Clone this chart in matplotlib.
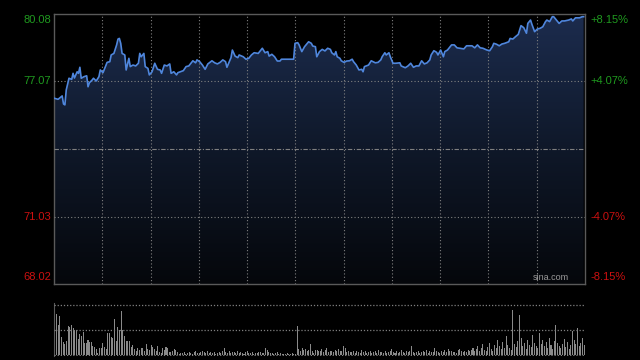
import numpy as np
import matplotlib.pyplot as plt
from matplotlib.colors import LinearSegmentedColormap

# intraday price (minute of session, price)
times = [0, 3, 6, 7, 8, 9, 11, 13, 14, 15, 17, 18, 19, 20, 22, 24, 25, 26, 28, 29,
         31, 33, 34, 36, 37, 39, 41, 42, 44, 46, 47, 48, 49, 50, 52, 53, 55, 56, 58, 60,
         62, 63, 64, 66, 67, 69, 70, 72, 74, 76, 78, 79, 81, 83, 85, 86, 88, 90, 91, 94,
         95, 97, 99, 102, 104, 105, 107, 109, 111, 113, 116, 118, 120, 122, 124, 126, 127, 129, 130, 131,
         133, 135, 136, 139, 141, 143, 145, 147, 150, 153, 155, 157, 158, 160, 162, 164, 166, 167, 176, 177,
         179, 180, 182, 184, 187, 189, 190, 192, 193, 195, 197, 199, 201, 203, 204, 206, 207, 208, 210, 211,
         213, 215, 217, 219, 220, 222, 224, 226, 227, 228, 231, 233, 236, 238, 240, 241, 243, 244, 246, 247,
         249, 251, 254, 255, 258, 260, 262, 264, 266, 268, 270, 272, 274, 276, 277, 279, 281, 282, 284, 286,
         287, 289, 292, 294, 296, 298, 301, 303, 307, 309, 311, 313, 315, 318, 320, 322, 323, 325, 327, 329,
         331, 334, 335, 337, 339, 341, 343, 345, 347, 348, 350, 351, 353, 355, 357, 359, 361, 362, 364, 366,
         367, 369, 371, 373, 375, 378, 380, 381, 383, 386, 388, 389]
prices = [76.32, 76.27, 76.42, 76.06, 76.02, 76.69, 77.21, 77.16, 77.43, 77.22, 77.50, 77.43, 77.70, 77.21, 77.28, 77.32, 76.83, 77.01, 77.13, 77.21,
          77.09, 77.28, 77.58, 77.46, 77.61, 77.92, 77.95, 78.25, 78.32, 78.70, 78.96, 78.99, 78.77, 78.32, 78.25, 77.58, 78.10, 77.73, 77.80, 77.76,
          77.88, 78.32, 78.17, 78.32, 77.73, 77.65, 77.36, 77.50, 77.88, 77.61, 77.58, 77.43, 77.80, 77.76, 77.85, 77.43, 77.50, 77.36, 77.46, 77.53,
          77.55, 77.73, 77.76, 77.99, 77.90, 78.03, 77.95, 77.80, 77.61, 77.85, 77.99, 77.90, 77.85, 77.92, 78.03, 77.95, 77.70, 77.98, 78.13, 78.47,
          78.20, 78.13, 78.25, 78.17, 78.06, 78.10, 78.25, 78.35, 78.32, 78.55, 78.35, 78.40, 78.20, 78.28, 78.17, 77.98, 77.98, 78.06, 78.06, 78.77,
          78.80, 78.70, 78.40, 78.62, 78.84, 78.77, 78.65, 78.62, 78.17, 78.40, 78.50, 78.43, 78.55, 78.50, 78.35, 78.25, 78.40, 78.17, 78.10, 77.99,
          77.92, 77.98, 77.99, 78.06, 77.95, 77.80, 77.58, 77.61, 77.50, 77.73, 77.80, 77.99, 77.90, 77.92, 78.03, 78.17, 78.35, 78.25, 78.35, 78.17,
          77.88, 77.88, 77.90, 77.76, 77.68, 77.76, 77.88, 77.70, 77.76, 77.76, 77.99, 77.85, 77.90, 78.03, 78.25, 78.44, 78.37, 78.25, 78.47, 78.17,
          78.40, 78.47, 78.70, 78.70, 78.57, 78.55, 78.52, 78.66, 78.66, 78.57, 78.70, 78.57, 78.55, 78.47, 78.44, 78.62, 78.77, 78.73, 78.66, 78.74,
          78.77, 78.84, 78.99, 78.96, 79.07, 79.17, 79.56, 79.47, 79.22, 79.66, 79.81, 79.62, 79.29, 79.41, 79.44, 79.51, 79.74, 79.81, 79.74, 79.96,
          79.96, 79.81, 79.66, 79.77, 79.77, 79.81, 79.86, 79.77, 79.91, 79.91, 79.96, 79.96]

# volume bars (relative units, 100 = top guide line)
volumes = [100, 82, 61, 78, 37, 27, 22, 29, 59, 57, 61, 55, 51, 51, 32, 43, 39, 46, 24, 24,
           30, 26, 26, 19, 17, 12, 5, 14, 14, 24, 17, 12, 45, 45, 37, 34, 72, 28, 57, 51,
           88, 51, 39, 28, 28, 29, 16, 21, 12, 9, 14, 10, 14, 14, 9, 22, 12, 10, 21, 16,
           12, 9, 19, 7, 5, 14, 10, 17, 14, 7, 7, 9, 12, 10, 7,
           3, 5, 4, 6, 3, 5, 7, 4, 3, 6, 8, 5, 4, 7, 9, 6, 5, 8, 4, 6,
           5, 7, 3, 4, 6, 5, 9, 14, 6, 5, 8, 4, 6, 7, 5, 9, 4, 6, 5, 3,
           7, 8, 4, 5, 6, 3, 4, 5, 7, 6, 4, 5, 14, 10, 6, 4, 5, 3, 4, 6,
           3, 4, 3, 2, 3, 4, 3, 3, 4, 3, 2,
           59, 12, 8, 14, 10, 12, 8, 11, 22, 8, 5, 10, 10, 9, 8, 12, 6, 10, 14, 6,
           8, 9, 7, 10, 8, 12, 8, 9, 18, 14, 7, 9, 6,
           6, 8, 5, 9, 7, 4, 10, 6, 8, 5, 7, 9, 4, 6, 8, 5, 10, 7, 6, 4,
           8, 5, 7, 9, 12, 6, 5, 8, 4, 6, 10, 7, 5, 9, 6, 8, 18, 7, 5, 6,
           9, 4, 7, 8, 6, 10, 5, 8, 6, 7, 14, 9, 6, 5, 8, 7, 10, 6, 12, 8,
           9, 6, 7, 5, 10, 12, 8, 6, 9, 7, 11, 8,
           10, 14, 8, 12, 18, 9, 15, 22, 11, 8, 16, 25, 12, 9, 20, 14, 30, 18, 12, 26,
           15, 38, 20, 14, 10, 90, 22, 16, 28, 80, 35, 18, 24, 12, 30, 20, 16, 40, 25, 18,
           14, 45, 22, 30, 18, 26, 15, 35, 20, 12, 28, 60, 24, 18, 14, 22, 32, 16, 26, 12,
           20, 48, 30, 22, 55, 18, 25, 35, 20]

prev_close = 74.05
price_ticks = [80.08, 77.07, 71.03, 68.02]
pct_ticks = ['+8.15%', '+4.07%', '-4.07%', '-8.15%']
session_len = 390

plt.rcParams['font.family'] = ['Liberation Sans', 'DejaVu Sans']

fig = plt.figure(figsize=(6.4, 3.6), dpi=100, facecolor='black')
ax = fig.add_axes([54 / 640, 76 / 360, 531 / 640, 270 / 360])
ax.set_facecolor('black')
ax.set_xlim(0, session_len)
ax.set_ylim(68.02, 80.08)

# gradient fill under the price line
cmap = LinearSegmentedColormap.from_list('fill', ['#05070b', '#0f1829', '#1c2c4e'])
grad = np.linspace(0, 1, 256).reshape(-1, 1)
img = ax.imshow(grad, extent=[0, session_len, 68.02, 80.08], origin='lower',
                aspect='auto', cmap=cmap, zorder=1)
poly = ax.fill_between(times, prices, 68.02, color='none', lw=0)
img.set_clip_path(poly.get_paths()[0], transform=ax.transData)
ax.plot(times, prices, color='#4f86dc', lw=1.2, zorder=4)

grid_kw = dict(color='#808080', lw=0.8, ls=(0, (1, 2)), zorder=3)
for k in range(1, 11):
    ax.axvline(session_len * k / 11, **grid_kw)
for v in [77.07, 71.03]:
    ax.axhline(v, **grid_kw)
ax.axhline(prev_close, color='#808080', lw=0.8, ls=(0, (4, 1.5, 1, 1.5)), zorder=3)

ax.set_xticks([])
ax.set_yticks([])
for s in ax.spines.values():
    s.set_color('#5a5a5a')
    s.set_linewidth(1)

tr = ax.get_yaxis_transform()
for v, pct in zip(price_ticks, pct_ticks):
    col = '#1f9a1f' if v > prev_close else '#cc1010'
    va = 'center'
    off = 0
    if v == 80.08:
        va, off = 'top', -0.06
    elif v == 68.02:
        va, off = 'bottom', 0.1
    ax.text(-0.006, v + off, f'{v:.2f}', transform=tr, ha='right', va=va,
            color=col, fontsize=8)
    ax.text(1.01, v + off, pct, transform=tr, ha='left', va=va,
            color=col, fontsize=8)

ax.text(0.97, 68.12, 'sina.com', transform=tr, ha='right', va='bottom',
        color='#9a9a9a', fontsize=6.5, zorder=5)

# volume panel
vx = fig.add_axes([54 / 640, 4 / 360, 531 / 640, 53 / 360])
vx.set_facecolor('black')
vx.set_xlim(0, session_len)
vx.set_ylim(-2, 104)
pos = np.linspace(0.6, session_len - 0.6, len(volumes))
vx.bar(pos, volumes, width=0.75, color='#8a8a8a', zorder=2)
for v in [0, 50, 100]:
    vx.axhline(v, color='#808080', lw=0.9, ls=(0, (1, 1.5)), zorder=3)
vx.set_xticks([])
vx.set_yticks([])
for name, s in vx.spines.items():
    s.set_visible(name == 'left')
vx.spines['left'].set_color('#5a5a5a')

fig.savefig('out.png', dpi=100, facecolor='black')
